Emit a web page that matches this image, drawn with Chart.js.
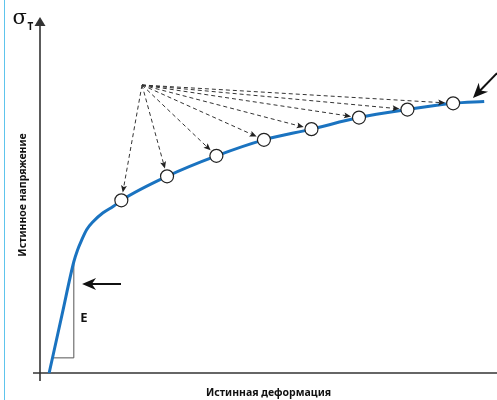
<!DOCTYPE html>
<html>
<head>
<meta charset="utf-8">
<script src="https://cdn.jsdelivr.net/npm/chart.js@4.4.1/dist/chart.umd.min.js"></script>
<style>
    html, body { margin: 0; padding: 0; background: #fff; }
    canvas { display: block; }
</style>
</head>
<body>
<canvas id="chart" width="497" height="400"></canvas>
<script>

/* ---------------- Data ---------------- */

// true strain / true stress along the flow curve
const strain = [0.010, 0.024, 0.037, 0.041, 0.045, 0.051, 0.058, 0.069, 0.080, 0.089, 0.139, 0.193, 0.245, 0.297, 0.349, 0.402, 0.452, 0.486];
const stress = [0, 65, 125, 138, 148, 161, 170, 180, 187, 194, 221, 244, 262, 274, 287, 296, 303, 305];

// measured points (circles)
const markStrain = [0.089, 0.139, 0.193, 0.245, 0.297, 0.349, 0.402, 0.452];
const markStress = [194, 221, 244, 262, 274, 287, 296, 303];

// annotations, in the same units
const fanOrigin = [0.1116, 323.6];
const eArrow = [[0.0886, 100], [0.046, 100]];
const endArrow = [[0.5, 337], [0.4737, 309]];
const slopeLeg = [[0.0142, 17], [0.037, 17], [0.037, 125]];
const eLabel = [0.048, 61];

const xTitle = "Истинная деформация";
const yTitle = "Истинное напряжение";

/* ---------------- Helpers ---------------- */

function arrow(ctx, x1, y1, x2, y2, len, half, notch) {
    const a = Math.atan2(y2 - y1, x2 - x1);
    const c = Math.cos(a), s = Math.sin(a);
    ctx.beginPath();
    ctx.moveTo(x1, y1);
    ctx.lineTo(x2 - c * len * 0.6, y2 - s * len * 0.6);
    ctx.stroke();
    ctx.save();
    ctx.setLineDash([]);
    ctx.beginPath();
    ctx.moveTo(x2, y2);
    ctx.lineTo(x2 - len * c + half * s, y2 - len * s - half * c);
    ctx.lineTo(x2 - len * notch * c, y2 - len * notch * s);
    ctx.lineTo(x2 - len * c - half * s, y2 - len * s + half * c);
    ctx.closePath();
    ctx.fill();
    ctx.restore();
}

function seg(ctx, x1, y1, x2, y2) {
    ctx.beginPath();
    ctx.moveTo(x1, y1);
    ctx.lineTo(x2, y2);
    ctx.stroke();
}

/* ---------------- Overlay plugin ---------------- */

const overlay = {
    id: "overlay",
    beforeDatasetsDraw(chart) {
        const { ctx, scales: { x, y } } = chart;
        const px = v => x.getPixelForValue(v);
        const py = v => y.getPixelForValue(v);
        const x0 = px(0), y0 = py(0);

        ctx.save();

        // frame line on the left
        ctx.strokeStyle = "#5ec4ec";
        ctx.lineWidth = 1;
        seg(ctx, 4.5, 0, 4.5, chart.height);

        // axes
        ctx.strokeStyle = "#333";
        ctx.fillStyle = "#333";
        ctx.lineWidth = 1.6;
        seg(ctx, x0 - 7, y0, x.right, y0);
        seg(ctx, x0, y0 + 8, x0, y.top + 8);
        ctx.beginPath();
        ctx.moveTo(x0, y.top);
        ctx.lineTo(x0 + 5.5, y.top + 9);
        ctx.lineTo(x0 - 5.5, y.top + 9);
        ctx.closePath();
        ctx.fill();

        // slope triangle
        ctx.strokeStyle = "#555";
        ctx.lineWidth = 1;
        ctx.beginPath();
        ctx.moveTo(px(slopeLeg[0][0]), py(slopeLeg[0][1]));
        ctx.lineTo(px(slopeLeg[1][0]), py(slopeLeg[1][1]));
        ctx.lineTo(px(slopeLeg[2][0]), py(slopeLeg[2][1]));
        ctx.stroke();

        ctx.restore();
    },
    afterDatasetsDraw(chart) {
        const { ctx, scales: { x, y } } = chart;
        const px = v => x.getPixelForValue(v);
        const py = v => y.getPixelForValue(v);

        ctx.save();

        // dashed fan to each measured point
        const ox = px(fanOrigin[0]), oy = py(fanOrigin[1]);
        ctx.strokeStyle = "#333";
        ctx.fillStyle = "#222";
        ctx.lineWidth = 1;
        markStrain.forEach((s, i) => {
            const cx = px(s), cy = py(markStress[i]);
            const d = Math.hypot(cx - ox, cy - oy);
            const k = (d - 8) / d;
            ctx.setLineDash([4, 3]);
            arrow(ctx, ox, oy, ox + (cx - ox) * k, oy + (cy - oy) * k, 7, 3, 0.8);
        });
        ctx.setLineDash([]);

        // solid arrows
        ctx.strokeStyle = "#111";
        ctx.fillStyle = "#111";
        ctx.lineWidth = 2;
        arrow(ctx, px(eArrow[0][0]), py(eArrow[0][1]), px(eArrow[1][0]), py(eArrow[1][1]), 14, 6, 0.7);
        arrow(ctx, px(endArrow[0][0]), py(endArrow[0][1]), px(endArrow[1][0]), py(endArrow[1][1]), 15, 6.5, 0.7);

        // labels
        ctx.fillStyle = "#111";
        ctx.font = "bold 13px 'Noto Sans'";
        ctx.textAlign = "center";
        ctx.textBaseline = "middle";
        ctx.fillText("E", px(eLabel[0]), py(eLabel[1]));

        ctx.textAlign = "left";
        ctx.textBaseline = "alphabetic";
        ctx.font = "21px 'DejaVu Serif'";
        ctx.fillText("σ", 12.5, 23.5);
        ctx.font = "bold 10px 'Noto Sans'";
        ctx.fillText("T", 27.5, 29.5);

        ctx.restore();
    }
};

/* ---------------- Create Chart ---------------- */

const canvas = document.getElementById("chart");

const titleFont = { family: "'Noto Sans'", size: 10.5, weight: "bold" };

new Chart(canvas.getContext("2d"), {

    type: "scatter",

    data: {
        datasets: [
            {
                label: "points",
                data: markStrain.map((s, i) => ({ x: s, y: markStress[i] })),
                pointRadius: 6.5,
                pointBackgroundColor: "#fff",
                pointBorderColor: "#222",
                pointBorderWidth: 1.2,
                showLine: false,
                order: 0,
                clip: false
            },
            {
                label: "curve",
                data: strain.map((s, i) => ({ x: s, y: stress[i] })),
                showLine: true,
                borderColor: "#1a73c0",
                borderWidth: 3,
                pointRadius: 0,
                cubicInterpolationMode: "monotone",
                fill: false,
                order: 1,
                clip: false
            }
        ]
    },

    options: {
        responsive: false,
        devicePixelRatio: 1,
        animation: false,
        layout: {
            autoPadding: false,
            padding: { top: 17, right: 0, bottom: 0, left: 0 }
        },
        plugins: {
            legend: { display: false },
            tooltip: { enabled: false }
        },
        scales: {
            x: {
                type: "linear",
                min: 0,
                max: 0.5,
                grid: { display: false, drawTicks: false },
                border: { display: false },
                ticks: { display: false },
                title: {
                    display: true,
                    text: xTitle,
                    color: "#111",
                    font: titleFont,
                    padding: { top: 13.4, bottom: 1 }
                }
            },
            y: {
                type: "linear",
                min: 0,
                max: 400,
                grid: { display: false, drawTicks: false },
                border: { display: false },
                ticks: { display: false },
                title: {
                    display: true,
                    text: yTitle,
                    color: "#111",
                    font: titleFont,
                    padding: { top: 16.7, bottom: 10.7 }
                }
            }
        }
    },

    plugins: [overlay]

});

</script>
</body>
</html>
